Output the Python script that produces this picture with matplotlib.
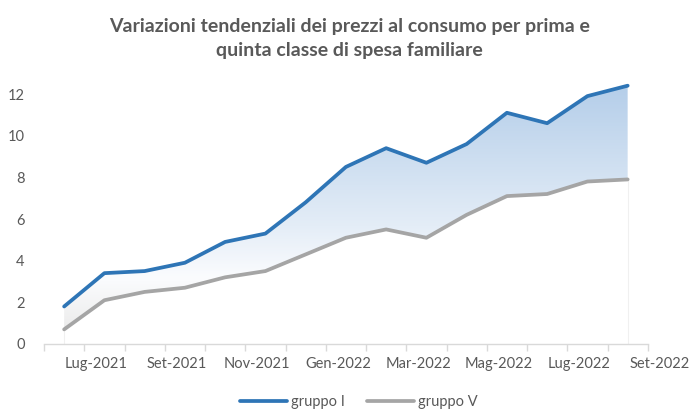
import numpy as np
import matplotlib
matplotlib.use("Agg")
import matplotlib.pyplot as plt
from matplotlib.colors import LinearSegmentedColormap
from matplotlib.transforms import blended_transform_factory

plt.rcParams['font.family'] = ['Lato', 'DejaVu Sans']

# Data: monthly values Jun-2021 .. Aug-2022
months = ['Giu-2021', 'Lug-2021', 'Ago-2021', 'Set-2021', 'Ott-2021', 'Nov-2021',
          'Dic-2021', 'Gen-2022', 'Feb-2022', 'Mar-2022', 'Apr-2022', 'Mag-2022',
          'Giu-2022', 'Lug-2022', 'Ago-2022']
gruppo_1 = [1.8, 3.4, 3.5, 3.9, 4.9, 5.3, 6.8, 8.5, 9.4, 8.7, 9.6, 11.1, 10.6, 11.9, 12.4]
gruppo_5 = [0.7, 2.1, 2.5, 2.7, 3.2, 3.5, 4.3, 5.1, 5.5, 5.1, 6.2, 7.1, 7.2, 7.8, 7.9]
tick_labels = ['Lug-2021', 'Set-2021', 'Nov-2021', 'Gen-2022', 'Mar-2022',
               'Mag-2022', 'Lug-2022', 'Set-2022']
tick_idx = [1, 3, 5, 7, 9, 11, 13, 15]

blue = '#2e75b6'
grey = '#a5a5a5'
text_col = '#595959'

fig = plt.figure(figsize=(6.9, 4.09), dpi=100)
ax = fig.add_axes([0.0638, 0.159, 0.875, 0.662])

x = np.arange(len(months))

# gradient fill between the two series
ymin_g, ymax_g = 0.0, 12.6
cmap = LinearSegmentedColormap.from_list('grad', [
    (0.0, '#e6e6e6'),
    (0.08, '#eeeeee'),
    (0.25, '#fbfcfe'),
    (0.45, '#e4edf7'),
    (1.0, '#b3cde9'),
])
grad = np.linspace(0, 1, 256).reshape(-1, 1)
img = ax.imshow(grad, extent=[x[0], x[-1], ymin_g, ymax_g], origin='lower',
                aspect='auto', cmap=cmap, zorder=1)
poly = ax.fill_between(x, gruppo_5, gruppo_1, color='none', lw=0)
clip = poly.get_paths()[0]
img.set_clip_path(clip, transform=ax.transData)

# faint edges of the lower area
ax.plot([x[0], x[0]], [0, gruppo_5[0]], color='#f0f0f0', lw=0.8, zorder=1)
ax.plot([x[-1], x[-1]], [0, gruppo_5[-1]], color='#f0f0f0', lw=0.8, zorder=1)

ax.plot(x, gruppo_1, color=blue, lw=2.7, solid_capstyle='round', zorder=3, label='gruppo I')
ax.plot(x, gruppo_5, color=grey, lw=2.7, solid_capstyle='round', zorder=3, label='gruppo V')

ax.set_xlim(-0.5, len(months) - 0.5)
ax.set_ylim(0, 13)
ax.set_yticks([0, 2, 4, 6, 8, 10, 12])
ax.tick_params(axis='y', length=0, labelsize=10.5, labelcolor=text_col, pad=14)

# category boundary ticks
ax.set_xticks(np.arange(len(months) + 1) - 0.5)
ax.set_xticklabels([])
ax.tick_params(axis='x', direction='out', length=5, color='#d9d9d9', width=1)

trans = blended_transform_factory(ax.transData, ax.transAxes)
for i, lab in zip(tick_idx, tick_labels):
    ax.text(i - 0.2, -0.075, lab, transform=trans, ha='center', va='center',
            fontsize=10.5, color=text_col, clip_on=False)

for s in ['top', 'right', 'left']:
    ax.spines[s].set_visible(False)
ax.spines['bottom'].set_color('#d9d9d9')
ax.spines['bottom'].set_linewidth(1)

fig.text(0.507, 0.907, 'Variazioni tendenziali dei prezzi al consumo per prima e\nquinta classe di spesa familiare',
         ha='center', va='center', fontsize=14, fontweight='bold', color=text_col,
         linespacing=1.5)

fig.legend(loc='center', bbox_to_anchor=(0.52, 0.018), ncol=2, frameon=False,
           fontsize=10.5, labelcolor=text_col, handlelength=3.2, handletextpad=0.3,
           columnspacing=1.5)

fig.savefig('out.png', dpi=100)
